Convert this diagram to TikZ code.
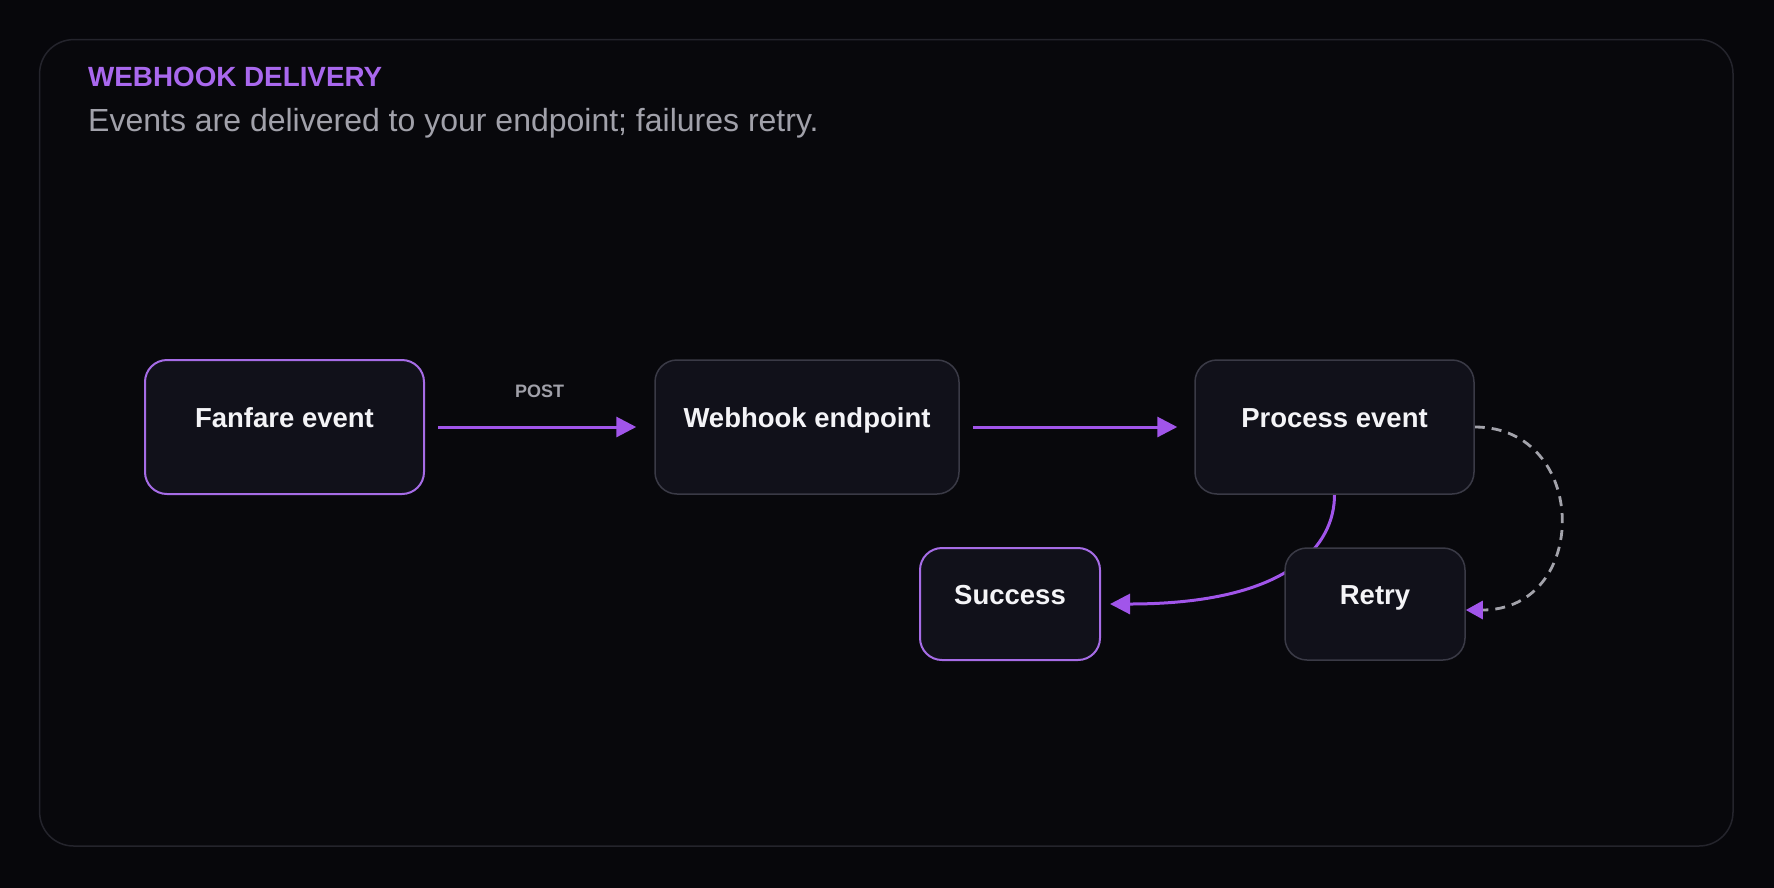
\documentclass[tikz,border=0pt]{standalone}
\usepackage{fontspec}
\setmainfont{Liberation Sans}
\usetikzlibrary{arrows.meta}
\definecolor{bgc}{HTML}{07070B}
\definecolor{framefill}{HTML}{08080C}
\definecolor{framedraw}{HTML}{24242C}
\definecolor{nodefill}{HTML}{11111A}
\definecolor{nodedraw}{HTML}{3A3A46}
\definecolor{accent}{HTML}{A66CE6}
\definecolor{arrowc}{HTML}{A155EA}
\definecolor{titlec}{HTML}{A968EE}
\definecolor{subc}{HTML}{A1A1AA}
\definecolor{dashc}{HTML}{A3A3AB}
\definecolor{textc}{HTML}{F4F4F7}
\pgfdeclarelayer{bgl}
\pgfdeclarelayer{edges}
\pgfsetlayers{bgl,edges,main}
\tikzset{
  box/.style={rectangle, rounded corners=22pt, fill=nodefill, draw=nodedraw, line width=1.5pt,
    text=textc, font=\fontsize{27.5}{30}\selectfont\bfseries, text height=14pt, text depth=14pt,
    inner sep=0pt},
  hot/.style={draw=accent, line width=2pt},
  flow/.style={draw=arrowc, line width=3pt, -{Triangle[length=20pt,width=20pt]}},
  retryflow/.style={draw=dashc, line width=2.8pt, dash pattern=on 10pt off 7pt,
    -{Triangle[length=17pt,width=18pt,color=arrowc]}},
  lbl/.style={text=subc, font=\fontsize{18}{20}\selectfont\bfseries, inner sep=0pt}
}
\begin{document}
\begin{tikzpicture}[x=1pt,y=-1pt]
\useasboundingbox (0,0) rectangle (1774,887);
\begin{pgfonlayer}{bgl}
\fill[bgc] (-10,-10) rectangle (1784,897);
\path[fill=framefill, draw=framedraw, line width=1.5pt, rounded corners=34pt] (39.6,39.6) rectangle (1733,846);
\end{pgfonlayer}
\node[anchor=base west, inner sep=0pt, text=titlec, font=\fontsize{27.8}{30}\selectfont\bfseries] (title) at (88,86) {WEBHOOK DELIVERY};
\node[anchor=base west, inner sep=0pt, text=subc, font=\fontsize{32}{36}\selectfont] (sub) at (88,131) {Events are delivered to your endpoint; failures retry.};

\node[box, hot, minimum width=279pt, minimum height=134pt] (fan) at (284.5,427) {Fanfare event};
\node[box, minimum width=304pt, minimum height=134pt] (web) at (807,427) {Webhook endpoint};
\node[box, minimum width=279pt, minimum height=134pt] (proc) at (1334.5,427) {Process event};
\node[box, hot, minimum width=180pt, minimum height=112pt] (succ) at (1010,604) {Success};
\node[box, minimum width=180pt, minimum height=112pt] (retry) at (1375,604) {Retry};

\begin{pgfonlayer}{edges}
\draw[flow, shorten <=13pt, shorten >=18pt] (fan.east) -- node[lbl, midway, yshift=36pt] (post) {POST} (web.west);
\draw[flow, shorten <=13pt, shorten >=17pt] (web.east) -- (proc.west);
\draw[flow, shorten >=9pt] (proc.south) .. controls +(0,50) and +(189,0) .. (succ.east);
\draw[retryflow] (proc.east) .. controls +(115,0) and +(125,0) .. ([yshift=-6pt]retry.east);
\end{pgfonlayer}
\end{tikzpicture}
\end{document}
